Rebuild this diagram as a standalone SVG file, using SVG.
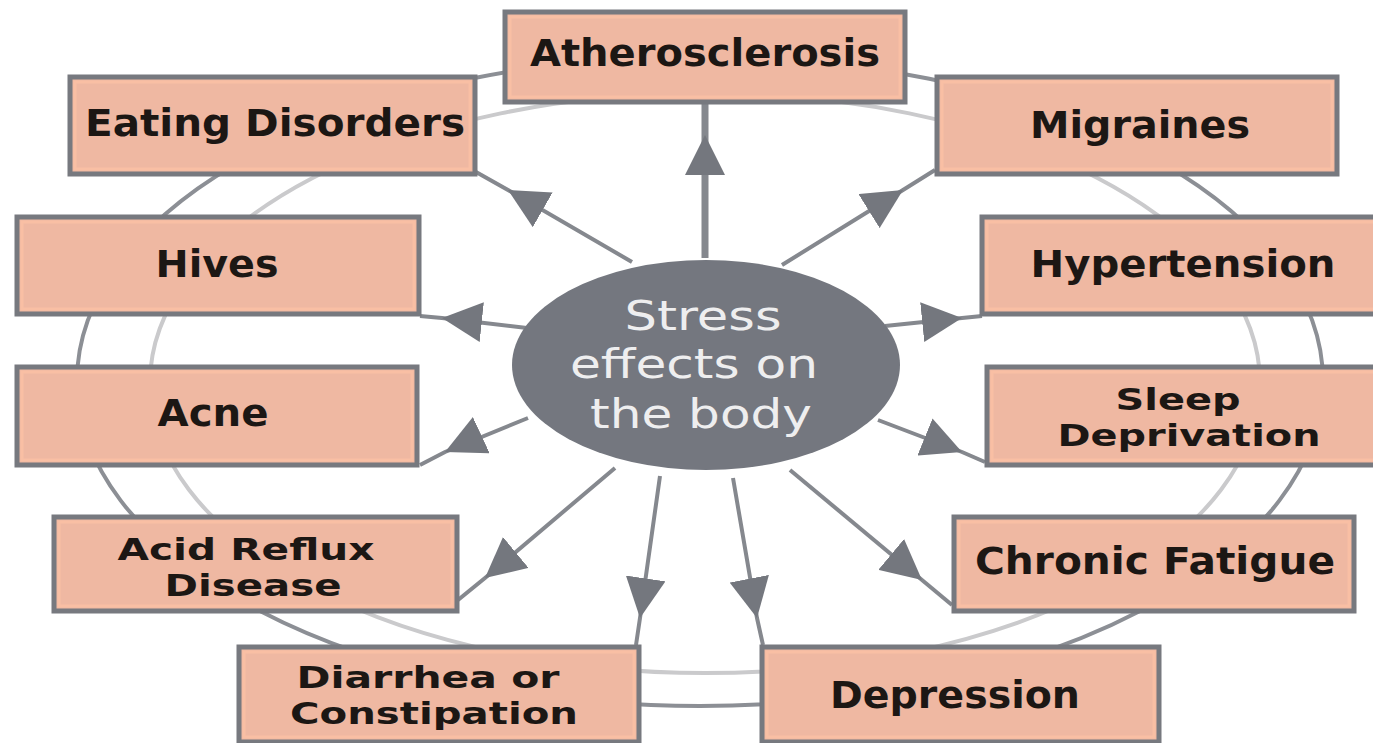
<svg xmlns="http://www.w3.org/2000/svg" width="1373" height="743" viewBox="0 0 1373 743">
<style>
.box rect.o{fill:#efb8a2;stroke:#77797f;stroke-width:5}
.box rect.i{fill:none;stroke:#f9bfa4;stroke-width:3}
.box text{font-family:"DejaVu Sans",Verdana,sans-serif;font-weight:bold;font-size:37px;fill:#1c1714;text-anchor:middle}
.box text.two{font-size:31px}
.ring{fill:none;stroke-width:4}
.conn path{fill:none;stroke:#85888e;stroke-width:4}
.center text{font-family:"DejaVu Sans",Verdana,sans-serif;font-size:40px;fill:#eeeeef;text-anchor:middle}
</style>
<defs>
<marker id="ah" markerUnits="userSpaceOnUse" markerWidth="40" markerHeight="40" viewBox="0 0 36 36" refX="36" refY="18" orient="auto">
<path d="M0,0 L36,18 L0,36 Z" fill="#74777e"/>
</marker>
</defs>
<rect width="1373" height="743" fill="#ffffff"/>
<g id="rings">
<ellipse class="ring" cx="700" cy="381" rx="623" ry="325" stroke="#8c8f95"/>
<ellipse class="ring" cx="705" cy="383" rx="555" ry="290" stroke="#cacacc"/>
</g>
<g id="connectors" class="conn">
<path d="M705,258 L705,135 L705,102" style="stroke-width:7" marker-mid="url(#ah)"/>
<path d="M632,262 L508,190 L476,172" marker-mid="url(#ah)"/>
<path d="M782,265 L903,190 L935,170" marker-mid="url(#ah)"/>
<path d="M527,328 L442,318 L420,316" marker-mid="url(#ah)"/>
<path d="M885,326 L962,318 L982,316" marker-mid="url(#ah)"/>
<path d="M528,418 L445,452 L420,465" marker-mid="url(#ah)"/>
<path d="M878,420 L962,452 L985,462" marker-mid="url(#ah)"/>
<path d="M615,468 L485,578 L458,600" marker-mid="url(#ah)"/>
<path d="M660,476 L640,618 L636,645" marker-mid="url(#ah)"/>
<path d="M733,478 L757,618 L763,645" marker-mid="url(#ah)"/>
<path d="M790,470 L922,580 L952,605" marker-mid="url(#ah)"/>
</g>
<g id="center" class="center">
<ellipse cx="706" cy="365" rx="194" ry="105" fill="#74777f"/>
<text x="703" y="330" textLength="157" lengthAdjust="spacingAndGlyphs">Stress</text>
<text x="694" y="378" textLength="248" lengthAdjust="spacingAndGlyphs">effects on</text>
<text x="701" y="428" textLength="222" lengthAdjust="spacingAndGlyphs">the body</text>
</g>
<g id="atherosclerosis" class="box">
<rect class="o" x="505" y="12" width="400" height="90"/><rect class="i" x="510" y="17" width="390" height="80"/>
<text x="705" y="66" textLength="350" lengthAdjust="spacingAndGlyphs">Atherosclerosis</text>
</g>
<g id="eating-disorders" class="box">
<rect class="o" x="70" y="77" width="405" height="97"/><rect class="i" x="75" y="82" width="395" height="87"/>
<text x="275" y="136" textLength="380" lengthAdjust="spacingAndGlyphs">Eating Disorders</text>
</g>
<g id="migraines" class="box">
<rect class="o" x="937" y="77" width="400" height="97"/><rect class="i" x="942" y="82" width="390" height="87"/>
<text x="1140" y="138" textLength="220" lengthAdjust="spacingAndGlyphs">Migraines</text>
</g>
<g id="hives" class="box">
<rect class="o" x="17" y="217" width="402" height="97"/><rect class="i" x="22" y="222" width="392" height="87"/>
<text x="217" y="277" textLength="123" lengthAdjust="spacingAndGlyphs">Hives</text>
</g>
<g id="hypertension" class="box">
<rect class="o" x="982" y="217" width="400" height="97"/><rect class="i" x="987" y="222" width="390" height="87"/>
<text x="1183" y="277" textLength="305" lengthAdjust="spacingAndGlyphs">Hypertension</text>
</g>
<g id="acne" class="box">
<rect class="o" x="17" y="367" width="400" height="98"/><rect class="i" x="22" y="372" width="390" height="88"/>
<text x="213" y="426" textLength="111" lengthAdjust="spacingAndGlyphs">Acne</text>
</g>
<g id="sleep-deprivation" class="box">
<rect class="o" x="987" y="367" width="400" height="98"/><rect class="i" x="992" y="372" width="390" height="88"/>
<text class="two" x="1178" y="410" textLength="125" lengthAdjust="spacingAndGlyphs">Sleep</text>
<text class="two" x="1189" y="446" textLength="263" lengthAdjust="spacingAndGlyphs">Deprivation</text>
</g>
<g id="acid-reflux" class="box">
<rect class="o" x="54" y="517" width="403" height="94"/><rect class="i" x="59" y="522" width="393" height="84"/>
<text class="two" x="246" y="560" textLength="257" lengthAdjust="spacingAndGlyphs">Acid Reflux</text>
<text class="two" x="253" y="596" textLength="177" lengthAdjust="spacingAndGlyphs">Disease</text>
</g>
<g id="chronic-fatigue" class="box">
<rect class="o" x="954" y="517" width="400" height="94"/><rect class="i" x="959" y="522" width="390" height="84"/>
<text x="1155" y="574" textLength="360" lengthAdjust="spacingAndGlyphs">Chronic Fatigue</text>
</g>
<g id="diarrhea" class="box">
<rect class="o" x="239" y="647" width="400" height="95"/><rect class="i" x="244" y="652" width="390" height="85"/>
<text class="two" x="428" y="688" textLength="263" lengthAdjust="spacingAndGlyphs">Diarrhea or</text>
<text class="two" x="434" y="724" textLength="288" lengthAdjust="spacingAndGlyphs">Constipation</text>
</g>
<g id="depression" class="box">
<rect class="o" x="762" y="647" width="397" height="95"/><rect class="i" x="767" y="652" width="387" height="85"/>
<text x="955" y="708" textLength="250" lengthAdjust="spacingAndGlyphs">Depression</text>
</g>
</svg>
